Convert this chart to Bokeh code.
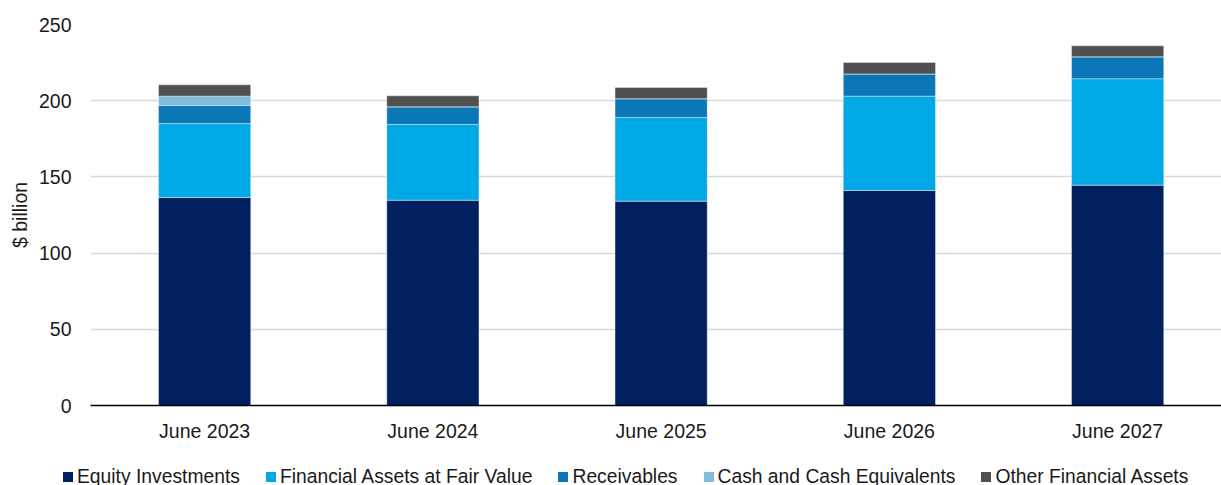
from bokeh.plotting import figure
from bokeh.models import Range1d, FixedTicker, ColumnDataSource, Div
from bokeh.layouts import column
from bokeh.embed import file_html
from bokeh.resources import INLINE

categories = ["June 2023", "June 2024", "June 2025", "June 2026", "June 2027"]
equity = [136.5, 134.7, 134.1, 141.1, 144.6]
fair_value = [48.5, 49.7, 54.9, 61.9, 69.8]
receivables = [11.9, 11.6, 12.3, 14.6, 14.4]
cash = [6.1, 0.0, 0.0, 0.0, 0.0]
other = [7.4, 7.2, 7.4, 7.5, 7.2]

series_names = ["Equity Investments", "Financial Assets at Fair Value", "Receivables",
                "Cash and Cash Equivalents", "Other Financial Assets"]
colors = ["#002060", "#00A9E6", "#0C77B6", "#7FBCDD", "#505050"]

xs = [i + 0.5 for i in range(len(categories))]
data = dict(x=xs, eq=equity, fv=fair_value, rc=receivables, ca=cash, ot=other)
source = ColumnDataSource(data)

FONT = "Liberation Sans"

p = figure(width=1221, height=455, output_backend="svg", toolbar_location=None,
           x_range=Range1d(0, 4.955), y_range=Range1d(0, 250),
           min_border_left=90, min_border_right=0, min_border_top=24, min_border_bottom=50)
p.outline_line_color = None
p.background_fill_color = "white"

rs = p.vbar_stack(["eq", "fv", "rc", "ca", "ot"], x="x", width=0.404, source=source,
                  color=colors, line_color="white", line_width=0.4)

p.xgrid.grid_line_color = None
p.ygrid.grid_line_color = "#D9D9D9"
p.ygrid.grid_line_width = 1.5
p.yaxis.ticker = FixedTicker(ticks=[0, 50, 100, 150, 200, 250])
p.xaxis.ticker = FixedTicker(ticks=xs)
p.xaxis.major_label_overrides = {x: c for x, c in zip(xs, categories)}

for ax in (p.xaxis[0], p.yaxis[0]):
    ax.major_tick_line_color = None
    ax.minor_tick_line_color = None
    ax.major_label_text_font = FONT
    ax.major_label_text_font_size = "19.5px"
    ax.major_label_text_color = "#1a1a1a"

p.yaxis.axis_line_color = None
p.yaxis.major_label_standoff = 13
p.yaxis.axis_label = "$ billion"
p.yaxis.axis_label_text_font = FONT
p.yaxis.axis_label_text_font_size = "19.5px"
p.yaxis.axis_label_text_font_style = "normal"
p.yaxis.axis_label_text_color = "#1a1a1a"
p.yaxis.axis_label_standoff = 5
p.xaxis.axis_line_color = "black"
p.xaxis.axis_line_width = 1.5
p.xaxis.major_label_standoff = 8

# legend strip below the chart, built from the series names and colours
item_html = "".join(
    f'<span style="display:inline-flex;align-items:center;">'
    f'<span style="display:inline-block;width:10px;height:10px;background:{c};margin-right:4px;"></span>'
    f'{n}</span>'
    for n, c in zip(series_names, colors))
legend_div = Div(
    text=f'<div style="display:flex;column-gap:26px;margin-left:58px;margin-top:6px;'
         f'font-family:\'{FONT}\';font-size:19.3px;line-height:22px;color:#1a1a1a;'
         f'white-space:nowrap;">{item_html}</div>',
    width=1221, height=29)

layout = column(p, legend_div, spacing=0)
open("out.html", "w").write(file_html(layout, INLINE))
